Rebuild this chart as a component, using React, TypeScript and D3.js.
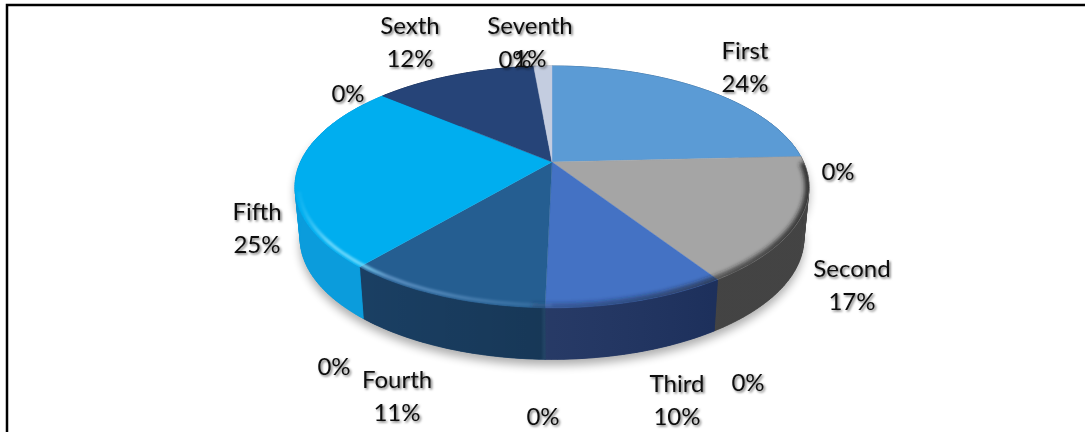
import React from "react";
import * as d3 from "d3";

// Shares of each period, in percent. The unnamed entries are empty slices whose
// only trace on the pie is their "0%" label.
const categories = ["First", "", "Second", "", "Third", "", "Fourth", "", "Fifth", "", "Sexth", "", "Seventh"];
const shares = [24.2, 0, 16.6, 0, 9.5, 0, 10.8, 0, 25.0, 0, 12.4, 0, 1.4];
const shownPercents = ["24%", "0%", "17%", "0%", "10%", "0%", "11%", "0%", "25%", "0%", "12%", "0%", "1%"];
const topColors = ["#5b9bd5", "#a5a5a5", "#a5a5a5", "#4472c4", "#4472c4", "#255e91", "#255e91", "#00aeef", "#00aeef", "#264478", "#264478", "#c4cde0", "#c4cde0"];
const wallColors = ["#3c6c99", "#474747", "#474747", "#1e3260", "#1e3260", "#1a3f63", "#1a3f63", "#0b9cdc", "#0b9cdc", "#1a3056", "#1a3056", "#8a93a5", "#8a93a5"];

// Label centres, by position in the series above.
const labelAnchors: [number, number][] = [
  [745, 67], [838, 172], [852, 285], [748, 383], [677, 400], [543, 417],
  [397, 396], [334, 367], [257, 228], [348, 94], [410, 42], [515, 60], [530, 42],
];

const WIDTH = 1085;
const HEIGHT = 432;
const HUB_X = 552;
const HUB_Y = 162;
const RADIUS_X = 251.5;
const RADIUS_Y = 115.8;
const TILT = 0.206; // perspective strength: the near edge of the disc reads larger
const DEPTH = 51.5;
const TAPER = 0.02; // the bottom disc sits a little further away

type Pt = [number, number];

// Projects a point of the unit disc (angle clockwise from twelve o'clock) to the page.
function project(theta: number, r: number, drop: number): Pt {
  const u = Math.sin(theta) * r;
  const v = -Math.cos(theta) * r;
  const w = 1 - TILT * v;
  const shrink = 1 - TAPER * drop;
  return [HUB_X + (RADIUS_X * u * shrink) / w, HUB_Y + (RADIUS_Y * v) / w + DEPTH * drop];
}

function arcPoints(a0: number, a1: number, drop: number, r = 1): Pt[] {
  const n = Math.max(2, Math.ceil((a1 - a0) / 0.02));
  return d3.range(n + 1).map((i) => project(a0 + ((a1 - a0) * i) / n, r, drop));
}

const line = d3.line<Pt>();
const slices = d3.pie<number>().sort(null).value((d) => d)(shares);
const outline = line(arcPoints(0, 2 * Math.PI, 0))! + "Z";
const silhouette = line([...arcPoints(Math.PI * 0.42, Math.PI * 1.58, 1), ...arcPoints(Math.PI * 0.42, Math.PI * 1.58, 0).reverse()])! + "Z";
const darkRim = line(arcPoints(Math.PI * 0.5, Math.PI * 1.02, 0))!;
const lightRim = line(arcPoints(Math.PI * 1.0, Math.PI * 1.42, 0, 0.985))!;

// Quads between top and bottom rim fill the tangent where the disc turns away at
// either side; the solid band drawn over them keeps the wall itself seamless.
function wallQuads(a0: number, a1: number): string[] {
  const top = arcPoints(a0, a1, 0);
  const bottom = arcPoints(a0, a1, 1);
  return d3.range(top.length - 1).map((k) => line([top[k], top[k + 1], bottom[k + 1], bottom[k]])! + "Z");
}

function wallBand(a0: number, a1: number): string {
  return line([...arcPoints(a0, a1, 0), ...arcPoints(a0, a1, 1).reverse()])! + "Z";
}

export default function App() {
  const visible = slices.map((s, i) => ({ s, i })).filter(({ s }) => s.value > 0);
  return (
    <svg width={WIDTH} height={HEIGHT} style={{ position: "absolute", left: 0, top: 0, background: "#fff" }}>
      <defs>
        <filter id="textShadow" x="-20%" y="-20%" width="150%" height="150%">
          <feDropShadow dx="1.5" dy="1.5" stdDeviation="1" floodColor="#000" floodOpacity="0.55" />
        </filter>
        <filter id="soft5" x="-10%" y="-10%" width="120%" height="130%">
          <feGaussianBlur stdDeviation="5" />
        </filter>
        <filter id="soft2" x="-10%" y="-10%" width="120%" height="120%">
          <feGaussianBlur stdDeviation="2.2" />
        </filter>
        <filter id="soft1" x="-10%" y="-10%" width="120%" height="120%">
          <feGaussianBlur stdDeviation="0.9" />
        </filter>
        <clipPath id="faceClip">
          <path d={outline} />
        </clipPath>
        <linearGradient id="rimDark" gradientUnits="userSpaceOnUse" x1={545} x2={809} y1={0} y2={0}>
          <stop offset="0" stopColor="#14264e" stopOpacity="0.35" />
          <stop offset="0.65" stopColor="#202020" stopOpacity="0.6" />
          <stop offset="1" stopColor="#202020" stopOpacity="0.85" />
        </linearGradient>
        <linearGradient id="rimLight" gradientUnits="userSpaceOnUse" x1={300} x2={545} y1={0} y2={0}>
          <stop offset="0" stopColor="#7fe0ff" stopOpacity="0.1" />
          <stop offset="0.12" stopColor="#7fe0ff" stopOpacity="0.8" />
          <stop offset="0.26" stopColor="#7fe0ff" stopOpacity="0.8" />
          <stop offset="0.36" stopColor="#8fc0f0" stopOpacity="0.5" />
          <stop offset="1" stopColor="#8fc0f0" stopOpacity="0.12" />
        </linearGradient>
        <linearGradient id="wallShade" gradientUnits="userSpaceOnUse" x1={362} x2={720} y1={0} y2={0}>
          <stop offset="0" stopColor="#000" stopOpacity="0" />
          <stop offset="0.5" stopColor="#000" stopOpacity="0.12" />
          <stop offset="0.52" stopColor="#fff" stopOpacity="0.04" />
          <stop offset="1" stopColor="#000" stopOpacity="0.05" />
        </linearGradient>
      </defs>

      {/* frame, open on the right and at the bottom */}
      <path d={`M7 ${HEIGHT}V5H${WIDTH}`} fill="none" stroke="#000" strokeWidth={2.5} />

      {/* ground shadow */}
      <path d={silhouette} fill="#000" opacity={0.32} filter="url(#soft5)" transform="translate(0 6)" />

      {/* side walls */}
      {visible.map(({ s, i }) => (
        <g key={`wall${i}`} fill={wallColors[i]} stroke={wallColors[i]} strokeWidth={0.5}>
          {wallQuads(s.startAngle, s.endAngle).map((d, k) => (
            <path key={k} d={d} />
          ))}
          <path d={wallBand(s.startAngle, s.endAngle)} />
        </g>
      ))}
      <path d={wallBand(Math.PI * 0.62, Math.PI * 1.3)} fill="url(#wallShade)" />

      {/* top faces */}
      {visible.map(({ s, i }) => {
        const d = line([project(0, 0, 0), ...arcPoints(s.startAngle, s.endAngle, 0)])! + "Z";
        return <path key={`face${i}`} d={d} fill={topColors[i]} stroke={topColors[i]} strokeWidth={0.4} />;
      })}

      {/* soft bevel along the near rim: falling into shade on the right, lit on the left */}
      <g clipPath="url(#faceClip)">
        <path d={darkRim} fill="none" stroke="url(#rimDark)" strokeWidth={9} filter="url(#soft2)" />
        <path d={lightRim} fill="none" stroke="url(#rimLight)" strokeWidth={3.5} filter="url(#soft1)" />
      </g>

      {/* labels */}
      <g filter="url(#textShadow)" fontFamily="Lato, 'Open Sans', sans-serif" fontSize={24} fill="#111" textAnchor="middle">
        {categories.map((name, i) => {
          const [x, y] = labelAnchors[i];
          return name ? (
            <text key={name} x={x} y={y}>
              <tspan x={x} dy={-8}>{name}</tspan>
              <tspan x={x} dy={33}>{shownPercents[i]}</tspan>
            </text>
          ) : (
            <text key={i} x={x} y={y + 8}>{shownPercents[i]}</text>
          );
        })}
      </g>
    </svg>
  );
}
